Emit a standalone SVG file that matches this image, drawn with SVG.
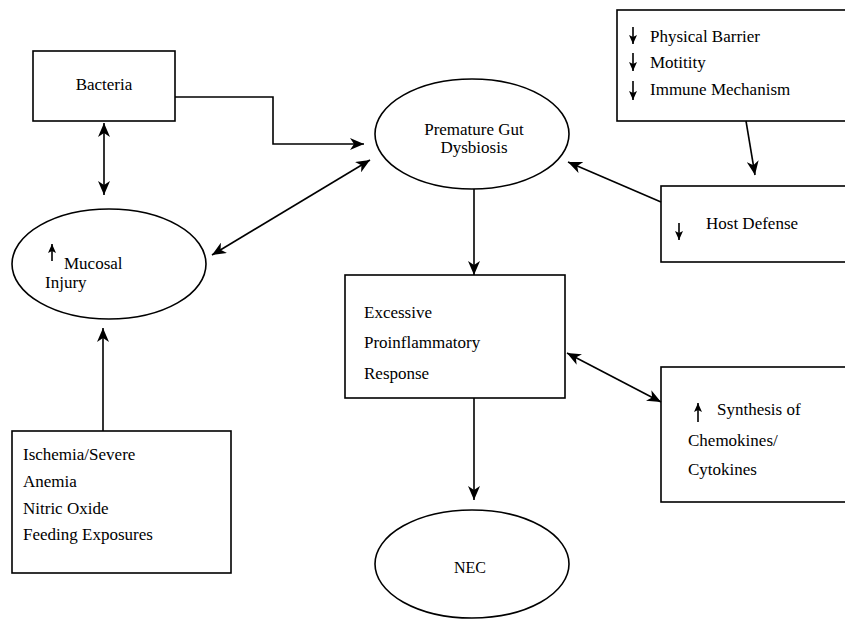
<svg xmlns="http://www.w3.org/2000/svg" width="845" height="620" viewBox="0 0 845 620">
<style>
.box{fill:#fff;stroke:#000;stroke-width:1.6}
.t{font-family:"Liberation Serif","DejaVu Serif",serif;font-size:17px;fill:#000}
.c{fill:none;stroke:#000;stroke-width:1.6}
.s{fill:none;stroke:#000;stroke-width:1.6}
</style>
<defs>
<marker id="ah" viewBox="0 0 14 12" refX="14" refY="6" markerWidth="14" markerHeight="12" markerUnits="userSpaceOnUse" orient="auto-start-reverse">
<path d="M0,0 L14,6 L0,12 L4,6 z" fill="#000"/>
</marker>
<marker id="sh" viewBox="0 0 9 8" refX="9" refY="4" markerWidth="9" markerHeight="8" markerUnits="userSpaceOnUse" orient="auto">
<path d="M0,0 L9,4 L0,8 L2,4 z" fill="#000"/>
</marker>
</defs>
<rect width="845" height="620" fill="#fff"/>

<g id="bacteria">
<rect class="box" x="33" y="51" width="142" height="70"/>
<text class="t" x="104" y="90" text-anchor="middle">Bacteria</text>
</g>

<g id="dysbiosis">
<ellipse class="box" cx="472" cy="134" rx="97" ry="55"/>
<text class="t" x="474" y="135" text-anchor="middle">Premature Gut</text>
<text class="t" x="474" y="153" text-anchor="middle">Dysbiosis</text>
</g>

<g id="factors">
<rect class="box" x="617" y="10" width="240" height="111"/>
<path class="s" d="M633,27 V44" marker-end="url(#sh)"/>
<path class="s" d="M633,53 V71" marker-end="url(#sh)"/>
<path class="s" d="M633,81 V100" marker-end="url(#sh)"/>
<text class="t" x="650" y="42">Physical Barrier</text>
<text class="t" x="650" y="68">Motitity</text>
<text class="t" x="650" y="95">Immune Mechanism</text>
</g>

<g id="host">
<rect class="box" x="661" y="186" width="200" height="76"/>
<path class="s" d="M679,223 V240" marker-end="url(#sh)"/>
<text class="t" x="706" y="229">Host Defense</text>
</g>

<g id="mucosal">
<ellipse class="box" cx="109" cy="264" rx="97" ry="55"/>
<path class="s" d="M52,261 V244" marker-end="url(#sh)"/>
<text class="t" x="64" y="269">Mucosal</text>
<text class="t" x="45" y="288">Injury</text>
</g>

<g id="excessive">
<rect class="box" x="345" y="275" width="220" height="123"/>
<text class="t" x="364" y="318">Excessive</text>
<text class="t" x="364" y="348">Proinflammatory</text>
<text class="t" x="364" y="379">Response</text>
</g>

<g id="synthesis">
<rect class="box" x="661" y="367" width="200" height="135"/>
<path class="s" d="M698,422 V403" marker-end="url(#sh)"/>
<text class="t" x="717" y="415">Synthesis of</text>
<text class="t" x="688" y="446">Chemokines/</text>
<text class="t" x="688" y="475">Cytokines</text>
</g>

<g id="ischemia">
<rect class="box" x="12" y="431" width="219" height="142"/>
<text class="t" x="23" y="460">Ischemia/Severe</text>
<text class="t" x="23" y="487">Anemia</text>
<text class="t" x="23" y="514">Nitric Oxide</text>
<text class="t" x="23" y="540">Feeding Exposures</text>
</g>

<g id="nec">
<ellipse class="box" cx="472" cy="564" rx="97" ry="54"/>
<text class="t" x="470" y="573" text-anchor="middle" style="font-size:16px">NEC</text>
</g>

<g id="connectors">
<path class="c" d="M175,97 H273 V144 H364" marker-end="url(#ah)"/>
<path class="c" d="M104,123 V195" marker-start="url(#ah)" marker-end="url(#ah)"/>
<path class="c" d="M370,160 L212,255" marker-start="url(#ah)" marker-end="url(#ah)"/>
<path class="c" d="M103,431 V328" marker-end="url(#ah)"/>
<path class="c" d="M746,121 L755,175" marker-end="url(#ah)"/>
<path class="c" d="M661,202 L568,162" marker-end="url(#ah)"/>
<path class="c" d="M474,189 V275" marker-end="url(#ah)"/>
<path class="c" d="M567,353 L661,402" marker-start="url(#ah)" marker-end="url(#ah)"/>
<path class="c" d="M474,398 V500" marker-end="url(#ah)"/>
</g>
</svg>
